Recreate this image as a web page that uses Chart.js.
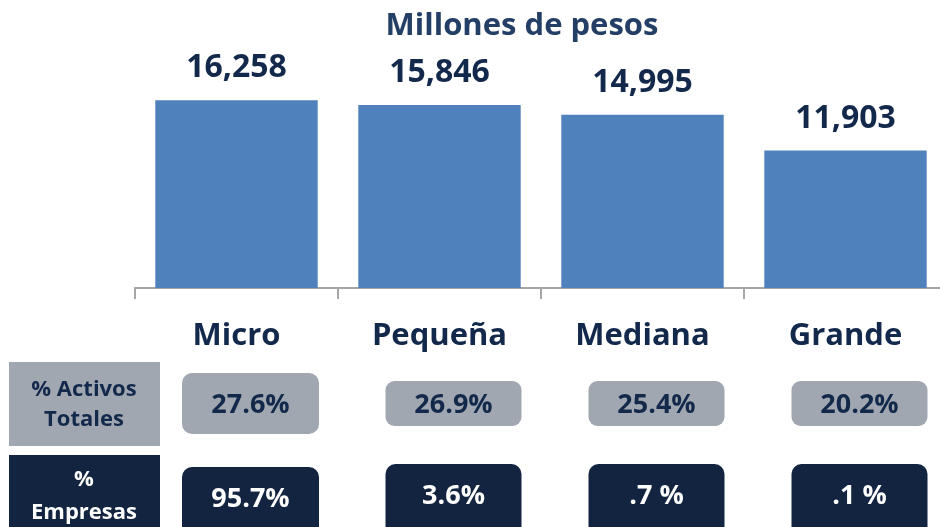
<!DOCTYPE html>
<html>
<head>
<meta charset="utf-8">
<script src="https://cdn.jsdelivr.net/npm/chart.js@4"></script>
<style>
  html, body { margin: 0; padding: 0; background: #fff; overflow: hidden; }
  #wrap { width: 948px; height: 527px; }
</style>
</head>
<body>
<div id="wrap"><canvas id="chart" width="948" height="527"></canvas></div>
<script>
// data
const categories = ['Micro', 'Pequeña', 'Mediana', 'Grande'];
const montos = [16258, 15846, 14995, 11903];
const montoLabels = ['16,258', '15,846', '14,995', '11,903'];
const activosLabels = ['27.6%', '26.9%', '25.4%', '20.2%'];
const empresasLabels = ['95.7%', '3.6%', '.7 %', '.1 %'];

const navy = '#13294b';
const font = '"Open Sans", "Noto Sans", sans-serif';

function roundRect(ctx, x, y, w, h, r, fill) {
  ctx.beginPath();
  ctx.roundRect(x, y, w, h, r);
  ctx.fillStyle = fill;
  ctx.fill();
}

// title, labels and the little table under the bars
const extras = {
  id: 'extras',
  afterDraw(chart) {
    const ctx = chart.ctx;
    const x = chart.scales.x;
    ctx.save();
    ctx.textAlign = 'center';
    ctx.textBaseline = 'middle';

    ctx.fillStyle = '#243f66';
    ctx.font = 'bold 31px ' + font;
    ctx.fillText('Millones de pesos', 522, 26);

    // bar values
    const meta = chart.getDatasetMeta(0);
    ctx.fillStyle = navy;
    ctx.font = 'bold 32px ' + font;
    meta.data.forEach((bar, i) => {
      ctx.fillText(montoLabels[i], bar.x, bar.y - 32);
    });

    // category names
    ctx.font = 'bold 31px ' + font;
    categories.forEach((c, i) => {
      ctx.fillText(c, x.getPixelForValue(i), 336);
    });

    // row headers
    ctx.fillStyle = '#a0a7b1';
    ctx.fillRect(9, 362, 151, 84);
    ctx.fillStyle = '#12243f';
    ctx.fillRect(9, 455, 151, 80);

    ctx.font = 'bold 22px ' + font;
    ctx.fillStyle = navy;
    ctx.fillText('% Activos', 84, 390);
    ctx.fillText('Totales', 84, 420);
    ctx.fillStyle = '#ffffff';
    ctx.fillText('%', 84, 480);
    ctx.fillText('Empresas', 84, 513);

    // value cells
    categories.forEach((c, i) => {
      const cx = x.getPixelForValue(i) + 14;
      const big = i === 0;
      const w = big ? 137 : 136;
      if (big) {
        roundRect(ctx, cx - w / 2, 373, w, 61, 10, '#a0a7b1');
        roundRect(ctx, cx - w / 2, 467, w, 70, 10, '#12243f');
      } else {
        roundRect(ctx, cx - w / 2, 381, w, 45, 9, '#a0a7b1');
        roundRect(ctx, cx - w / 2, 464, w, 73, 10, '#12243f');
      }
      ctx.font = 'bold 27px ' + font;
      ctx.fillStyle = navy;
      ctx.fillText(activosLabels[i], cx, 405);
      ctx.fillStyle = '#ffffff';
      ctx.fillText(empresasLabels[i], cx, big ? 499 : 496);
    });

    ctx.restore();
  }
};

new Chart(document.getElementById('chart'), {
  type: 'bar',
  data: {
    labels: categories,
    datasets: [{
      data: montos,
      backgroundColor: '#4f81bd',
      barPercentage: 0.8,
      categoryPercentage: 1
    }]
  },
  options: {
    responsive: false,
    animation: false,
    devicePixelRatio: 1,
    layout: { padding: { left: 135, right: 1, top: 57, bottom: 228 } },
    plugins: {
      legend: { display: false },
      tooltip: { enabled: false }
    },
    scales: {
      x: {
        grid: {
          drawOnChartArea: false,
          drawTicks: true,
          tickLength: 11,
          color: '#a6a6a6',
          lineWidth: 2,
          offset: true
        },
        border: { color: '#a6a6a6', width: 2 },
        ticks: { display: false }
      },
      y: { display: false, min: 0, max: 20000 }
    }
  },
  plugins: [extras]
});
</script>
</body>
</html>
